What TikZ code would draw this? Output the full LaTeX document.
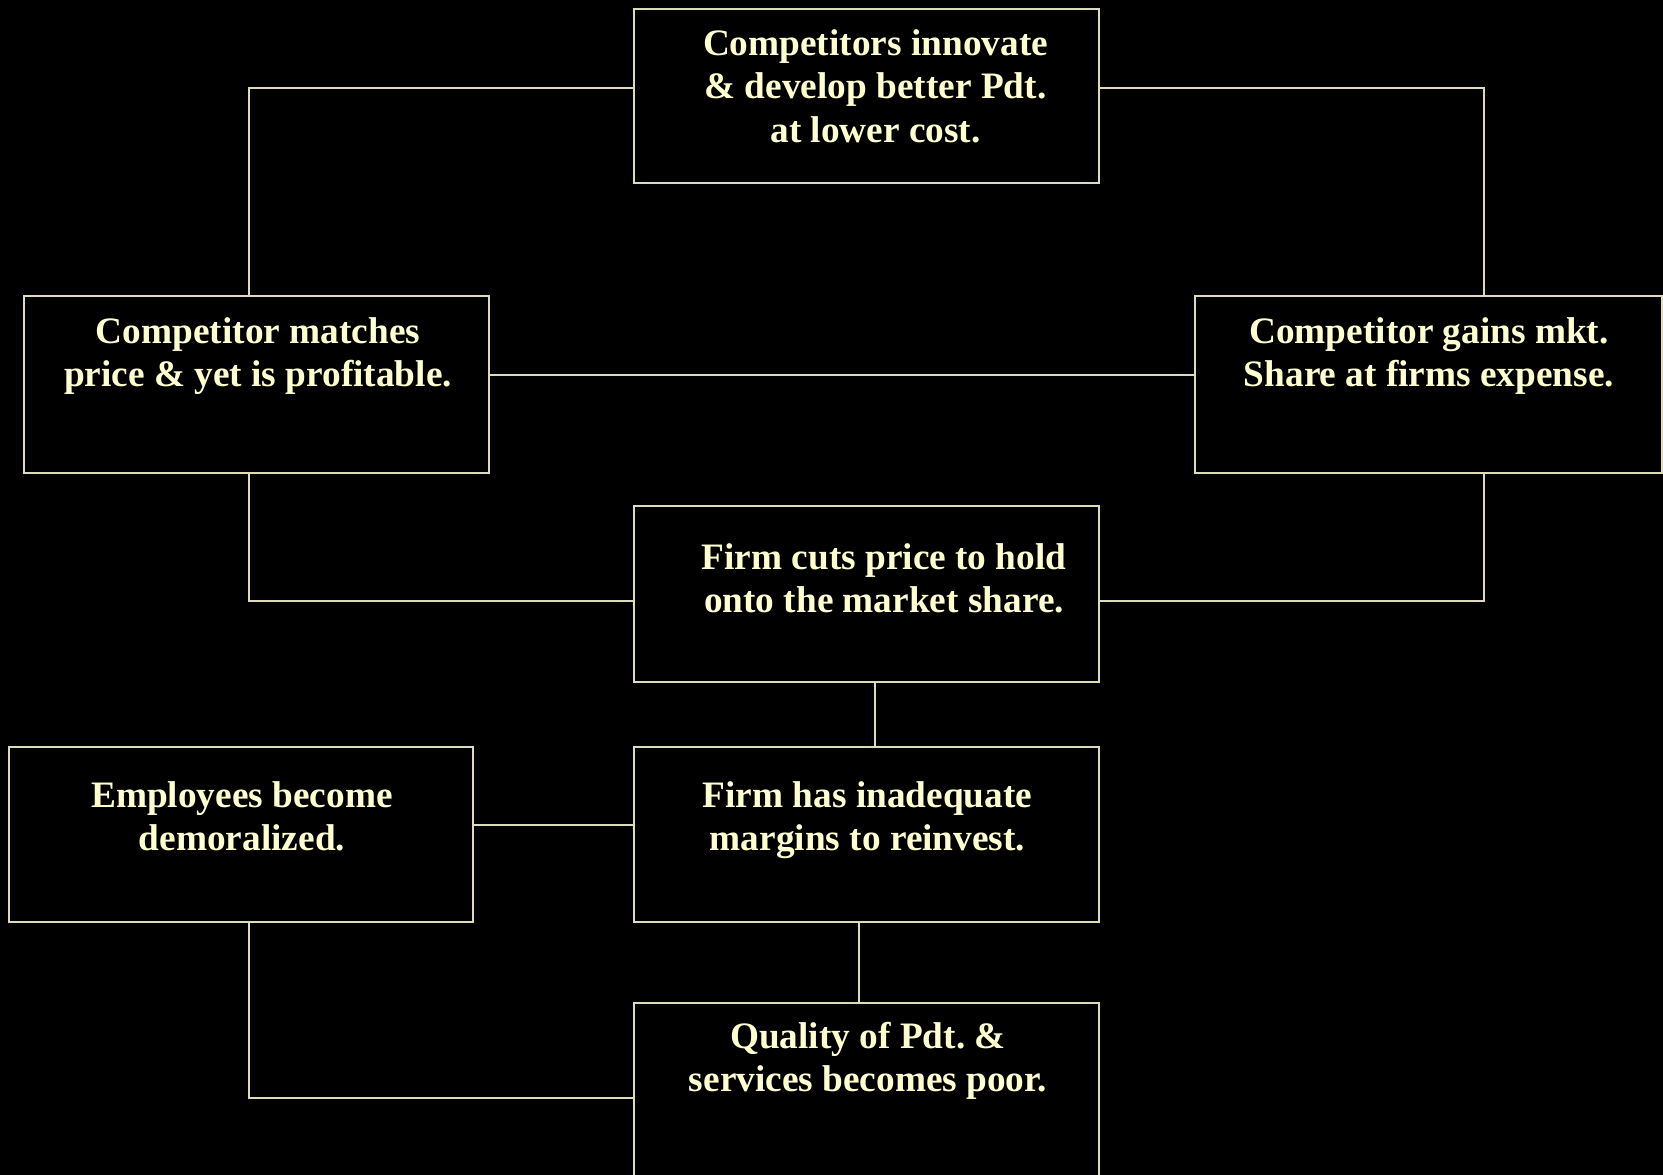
\documentclass[tikz,border=0pt]{standalone}
\usepackage{fontspec}
\setmainfont{Liberation Serif}
\usetikzlibrary{calc}
\definecolor{linec}{RGB}{222,219,188}
\definecolor{textc}{RGB}{255,255,208}
\frenchspacing
\begin{document}
\begin{tikzpicture}[x=1pt,y=-1pt,
  boxnode/.style={draw=linec, line width=2pt, rectangle, inner sep=0pt, minimum width=465pt},
  conn/.style={draw=linec, line width=2pt},
  txt/.style={text=textc, font=\fontsize{37.3}{43.5}\selectfont\bfseries, align=center, inner sep=0pt, anchor=north}]
\fill[black] (0,0) rectangle (1663,1175);
\clip (0,0) rectangle (1663,1175);
\useasboundingbox (0,0) rectangle (1663,1175);
% boxes
\node[boxnode, minimum height=174pt] (top) at (866.5,96) {};
\node[boxnode, minimum height=177pt] (L) at (256.5,384.5) {};
\node[boxnode, minimum height=177pt, minimum width=467pt] (R) at (1428.5,384.5) {};
\node[boxnode, minimum height=176pt] (cuts) at (866.5,594) {};
\node[boxnode, minimum height=175pt] (has) at (866.5,834.5) {};
\node[boxnode, minimum height=175pt, minimum width=464pt] (emp) at (241,834.5) {};
\node[boxnode, minimum height=176pt] (qual) at (866.5,1091) {};
% texts
\node[txt] (ttop) at (875.5,24.5) {\strut Competitors innovate\\ \& develop better Pdt.\\ at lower cost.};
\node[txt] (tL) at (258,312.5) {\strut Competitor matches\\ price \& yet is profitable.};
\node[txt] (tR) at (1429,312.5) {\strut Competitor gains mkt.\\ Share at firms expense.};
\node[txt] (tcuts) at (884,538.5) {\strut Firm cuts price to hold\\ onto the market share.};
\node[txt] (thas) at (867.5,776.5) {\strut Firm has inadequate\\ margins to reinvest.};
\node[txt] (temp) at (242,776.5) {\strut Employees become\\ demoralized.};
\node[txt] (tqual) at (868,1017.5) {\strut Quality of Pdt. \&\\ services becomes poor.};
% connectors
\draw[conn] ([yshift=8pt]top.west) -| ([xshift=-7.5pt]L.north);
\draw[conn] ([yshift=8pt]top.east) -| ([xshift=55.5pt]R.north);
\draw[conn] ([yshift=9.5pt]L.east) -- ([yshift=9.5pt]R.west);
\draw[conn] ([xshift=-7.5pt]L.south) |- ([yshift=-7pt]cuts.west);
\draw[conn] ([xshift=55.5pt]R.south) |- ([yshift=-7pt]cuts.east);
\draw[conn] ([xshift=8.5pt]cuts.south) -- ([xshift=8.5pt]has.north);
\draw[conn] ([yshift=9.5pt]emp.east) -- ([yshift=9.5pt]has.west);
\draw[conn] ([xshift=-7.5pt]has.south) -- ([xshift=-7.5pt]qual.north);
\draw[conn] ([xshift=8pt]emp.south) |- ([yshift=-7pt]qual.west);
\end{tikzpicture}
\end{document}
